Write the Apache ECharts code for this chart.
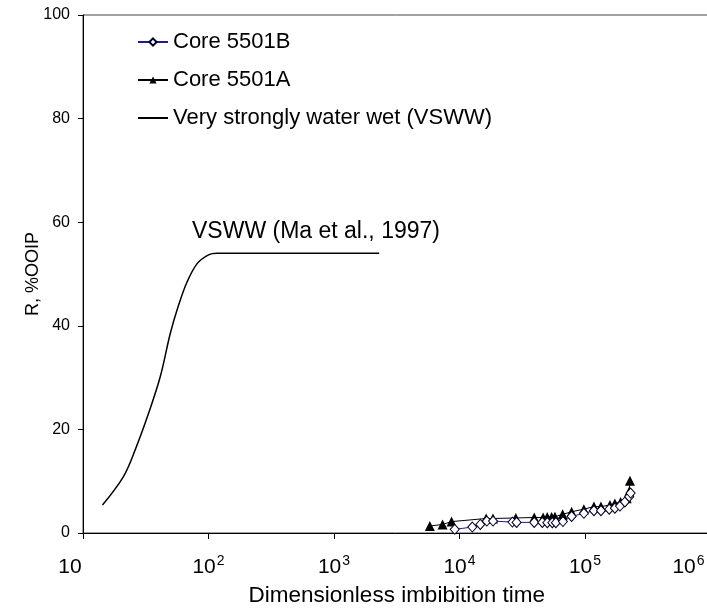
<!DOCTYPE html>
<html>
<head>
<meta charset="utf-8">
<script src="https://cdn.jsdelivr.net/npm/echarts@6/dist/echarts.min.js"></script>
<style>html,body{margin:0;padding:0;background:#fff}#c{width:707px;height:613px}</style>
</head>
<body>
<div id="c"></div>
<script>
// Data
var core5501B_t = [9160, 12650, 14650, 16500, 18500, 26400, 28500, 39400, 45700, 50100, 54900, 58600, 66700, 78200, 98000, 117800, 134000, 156000, 173000, 190000, 208000, 225000, 231000];
var core5501B_R = [0.7, 1.15, 1.65, 2.3, 2.3, 2.1, 2.05, 2.05, 2.05, 2.0, 2.0, 2.0, 2.2, 3.2, 3.8, 4.3, 4.3, 4.6, 4.8, 5.2, 6.0, 7.0, 7.7];
var core5501A_t = [5800, 7330, 8640, 16300, 18500, 28100, 39400, 46400, 50000, 54200, 57600, 66300, 78200, 98000, 117800, 134000, 158000, 173000, 192000, 215000, 225000, 228000];
var core5501A_R = [1.35, 1.65, 2.2, 2.8, 2.8, 2.9, 3.0, 3.0, 3.1, 3.1, 3.15, 3.6, 4.1, 4.6, 5.1, 5.1, 5.4, 5.7, 6.0, 6.7, 8.0, 10.1];
var vsww_t = [14.3, 21, 26, 33.3, 41.3, 49.7, 57.8, 67.6, 81.2, 100, 117, 150, 300, 1000, 2290];
var vsww_R = [5.4, 10.9, 16, 23.1, 30.2, 38.6, 44, 48.5, 52, 53.7, 54, 54, 54, 54, 54];
var yTicks = [0, 20, 40, 60, 80, 100];
var seriesNames = ['Core 5501B', 'Core 5501A', 'Very strongly water wet (VSWW)'];
var annotation = 'VSWW (Ma et al., 1997)';

function pairs(a, b) { return a.map(function (v, i) { return [v, b[i]]; }); }

var chart = echarts.init(document.getElementById('c'), null, { renderer: 'canvas' });
var font = 'Liberation Sans, Arial, sans-serif';
chart.setOption({
  animation: false,
  backgroundColor: '#fff',
  textStyle: { fontFamily: font, color: '#000' },
  grid: { left: 83, top: 15, right: -3.5, bottom: 80, show: true, borderColor: '#444', borderWidth: 1,
          containLabel: false, outerBoundsMode: 'none' },
  legend: {
    orient: 'vertical', left: 137, top: 31, padding: 0, itemWidth: 30, itemHeight: 9, itemGap: 16,
    textStyle: { fontSize: 22, fontFamily: font, color: '#000' },
    data: [seriesNames[0], seriesNames[1], { name: seriesNames[2], itemStyle: { opacity: 0 } }]
  },
  xAxis: {
    type: 'log', logBase: 10, min: 10, max: 1000000,
    name: 'Dimensionless imbibition time', nameLocation: 'middle', nameGap: 51, nameMoveOverlap: false,
    nameTextStyle: { fontSize: 22.5, fontFamily: font, color: '#000' },
    axisLine: { lineStyle: { color: '#000', width: 1 } },
    axisTick: { inside: false, length: 6, lineStyle: { color: '#000' } },
    minorTick: { show: false },
    splitLine: { show: false },
    axisLabel: {
      margin: 21, color: '#000', showMinLabel: true, showMaxLabel: true, hideOverlap: false,
      formatter: function (v) {
        var e = Math.round(Math.log10(v));
        if (e === 1) return '{first|10}';
        if (e === 6) return '{b|10}{last|' + e + '}';
        return '{b|10}{s|' + e + '}';
      },
      rich: {
        first: { fontSize: 21, fontFamily: font, color: '#000', lineHeight: 24, verticalAlign: 'bottom', padding: [0, 26, 0, 0] },
        b: { fontSize: 21, fontFamily: font, color: '#000', lineHeight: 24, verticalAlign: 'bottom' },
        s: { fontSize: 14, fontFamily: font, color: '#000', lineHeight: 24, verticalAlign: 'top', padding: [0, 0, 0, 1] },
        last: { fontSize: 14, fontFamily: font, color: '#000', lineHeight: 24, verticalAlign: 'top', padding: [0, 44, 0, 1] }
      }
    }
  },
  yAxis: {
    type: 'value', min: yTicks[0], max: yTicks[yTicks.length - 1], interval: 20,
    name: 'R, %OOIP', nameLocation: 'middle', nameGap: 41, nameMoveOverlap: false,
    nameTextStyle: { fontSize: 18, fontFamily: font, color: '#000' },
    axisLine: { show: true, lineStyle: { color: '#000', width: 1 } },
    axisTick: { show: true, inside: false, length: 5, lineStyle: { color: '#000' } },
    splitLine: { show: false },
    axisLabel: { margin: 13, fontSize: 16, fontFamily: font, color: '#000' }
  },
  graphic: [{
    type: 'text', left: 192, top: 220,
    style: { text: annotation, font: '23px Liberation Sans, Arial, sans-serif', fill: '#000' }
  }],
  series: [
    {
      name: seriesNames[0], type: 'line', data: pairs(core5501B_t, core5501B_R),
      symbol: 'diamond', symbolSize: [9, 10], showAllSymbol: true,
      lineStyle: { color: '#1c1c96', width: 1 },
      itemStyle: { color: '#fff', borderColor: '#000028', borderWidth: 1 },
      z: 3
    },
    {
      name: seriesNames[1], type: 'line', data: pairs(core5501A_t, core5501A_R),
      symbol: 'triangle', symbolSize: 10, showAllSymbol: true,
      lineStyle: { color: '#000', width: 1 },
      itemStyle: { color: '#000' },
      z: 2
    },
    {
      name: seriesNames[2], type: 'line', data: pairs(vsww_t, vsww_R),
      symbol: 'none', smooth: 0.35,
      lineStyle: { color: '#000', width: 1.5 },
      itemStyle: { color: '#000' }
    }
  ]
});
</script>
</body>
</html>
